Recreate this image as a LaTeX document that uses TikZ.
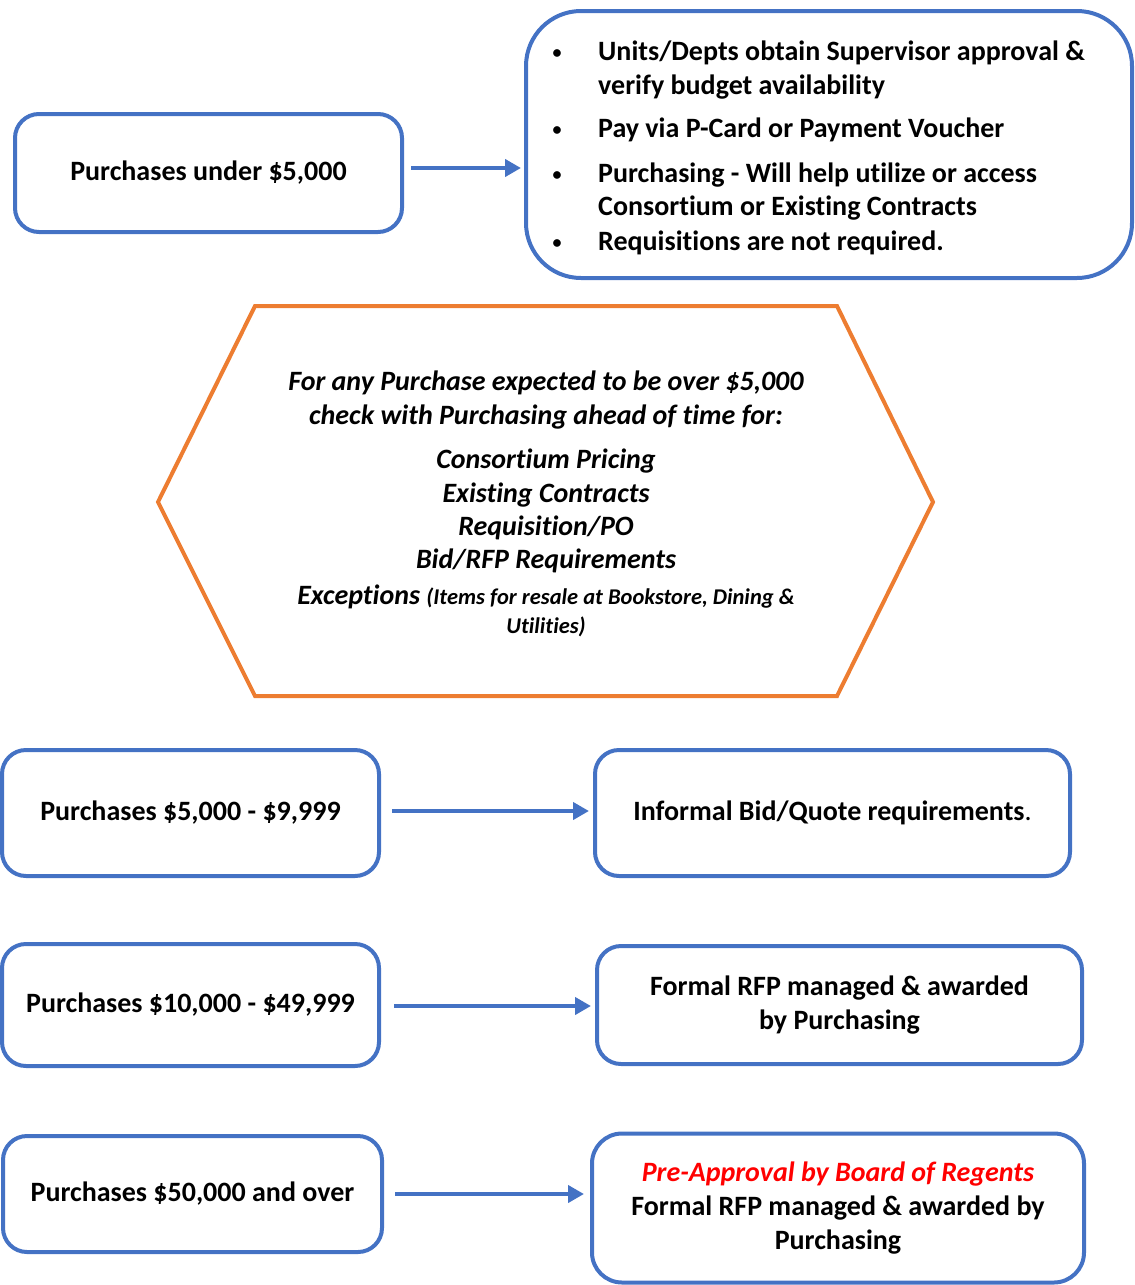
\documentclass[tikz,border=0pt]{standalone}
\usepackage{fontspec}
\setmainfont{Carlito}[Ligatures=NoCommon]
\usetikzlibrary{arrows.meta}
\definecolor{bblue}{HTML}{4472C4}
\definecolor{borange}{HTML}{ED7D31}
\definecolor{rred}{HTML}{FF0000}
\begin{document}
\begin{tikzpicture}[x=1pt,y=-1pt,
  box/.style={draw=bblue, line width=4pt, rounded corners=24pt, inner sep=0pt, outer sep=0pt,
    font=\fontsize{28}{34}\selectfont\bfseries, align=center},
  line/.style={anchor=base west, inner sep=0pt, font=\fontsize{28}{34}\selectfont\bfseries},
  bul/.style={anchor=base, inner sep=0pt, font=\fontsize{18}{34}\selectfont\bfseries},
  hx/.style={anchor=base, inner sep=0pt, font=\fontsize{28}{34}\selectfont\bfseries\itshape},
  hxs/.style={anchor=base, inner sep=0pt, font=\fontsize{22.5}{28}\selectfont\bfseries\itshape},
  arr/.style={draw=bblue, line width=4pt, -{Triangle[length=16pt,width=17pt]}}]
\useasboundingbox (0,0) rectangle (1135,1285);

% Row 1
\node[box, minimum width=387pt, minimum height=118pt] (b1) at (208.5,173) {Purchases under \$5,000};
\node[box, rounded corners=55pt, minimum width=606pt, minimum height=267pt] (b2) at (829,144.5) {};
\node[bul] (u1) at (557,58) {•};
\node[bul] (u2) at (557,135) {•};
\node[bul] (u3) at (557,180) {•};
\node[bul] (u4) at (557,248) {•};
\node[line] (l1) at (598,60) {Units/Depts obtain Supervisor approval \&};
\node[line] (l2) at (598,94) {verify budget availability};
\node[line] (l3) at (598,137) {Pay via P-Card or Payment Voucher};
\node[line] (l4) at (598,182) {Purchasing - Will help utilize or access};
\node[line] (l5) at (598,215) {Consortium or Existing Contracts};
\node[line] (l6) at (598,250) {Requisitions are not required.};
\draw[arr, shorten <=9pt, shorten >=5pt] ([yshift=5pt]b1.east) -- ([yshift=5pt]b1.east -| b2.west);

% Hexagon
\draw[draw=borange, line width=4pt, line join=miter]
  (255,306) coordinate (h1) -- (837,306) coordinate (h2) -- (933,502) coordinate (h3)
  -- (837,696) coordinate (h4) -- (255,696) coordinate (h5) -- (158,502) coordinate (h6) -- cycle;
\node[hx] (x1) at (546,390) {For any Purchase expected to be over \$5,000};
\node[hx] (x2) at (546,424) {check with Purchasing ahead of time for:};
\node[hx] (x3) at (546,468) {Consortium Pricing};
\node[hx] (x4) at (546,502) {Existing Contracts};
\node[hx] (x5) at (546,535) {Requisition/PO};
\node[hx] (x6) at (546,568) {Bid/RFP Requirements};
\node[hx] (x7) at (546,604) {Exceptions {\fontsize{22.5}{28}\selectfont(Items for resale at Bookstore, Dining \&}};
\node[hxs] (x8) at (546,633) {Utilities)};

% Row 4
\node[box, minimum width=377pt, minimum height=126pt] (c1) at (190.5,813) {Purchases \$5,000 - \$9,999};
\node[box, minimum width=475pt, minimum height=126pt] (c2) at (832.5,813) {Informal Bid/Quote requirements{\mdseries .}};
\draw[arr, shorten <=13pt, shorten >=6pt] ([yshift=2pt]c1.east) -- ([yshift=2pt]c1.east -| c2.west);

% Row 5
\node[box, minimum width=377pt, minimum height=122pt] (d1) at (190.5,1005) {Purchases \$10,000 - \$49,999};
\node[box, minimum width=485pt, minimum height=118pt] (d2) at (839.5,1005) {Formal RFP managed \& awarded\\by Purchasing};
\draw[arr, shorten <=15pt, shorten >=6pt] ([yshift=-1pt]d1.east) -- ([yshift=-1pt]d1.east -| d2.west);

% Row 6
\node[box, minimum width=379pt, minimum height=116pt] (e1) at (192.5,1194) {Purchases \$50,000 and over};
\node[box, rounded corners=30pt, minimum width=492pt, minimum height=149pt] (e2) at (838,1208)
  {{\color{rred}\itshape Pre-Approval by Board of Regents}\\Formal RFP managed \& awarded by\\Purchasing};
\draw[arr, shorten <=13pt, shorten >=8pt] (e1.east) -- (e1.east -| e2.west);
\end{tikzpicture}
\end{document}
